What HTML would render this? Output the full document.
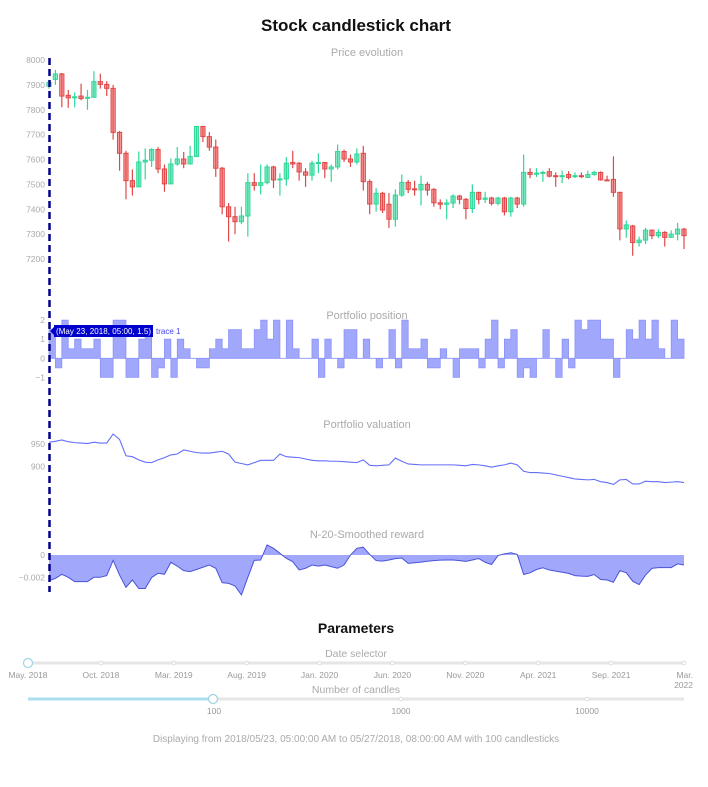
<!DOCTYPE html>
<html><head><meta charset="utf-8"><style>
body{margin:0;background:#fff;font-family:"Liberation Sans",sans-serif;}
svg text{font-family:"Liberation Sans",sans-serif;}
</style></head><body>
<svg id="s" width="708" height="782" viewBox="0 0 708 782" xmlns="http://www.w3.org/2000/svg">
<text x="356" y="31" text-anchor="middle" font-size="17" font-weight="bold" fill="#111">Stock candlestick chart</text>
<text x="367" y="56" text-anchor="middle" font-size="11" fill="#aaa">Price evolution</text>
<text x="367" y="319" text-anchor="middle" font-size="11" fill="#aaa">Portfolio position</text>
<text x="367" y="428" text-anchor="middle" font-size="11" fill="#aaa">Portfolio valuation</text>
<text x="367" y="538" text-anchor="middle" font-size="11" fill="#aaa">N-20-Smoothed reward</text>
<g id="price"></g>
<g id="pos"></g>
<g id="val"></g>
<g id="rew"></g>
<line x1="49.5" y1="58" x2="49.5" y2="592" stroke="#00008b" stroke-width="2.5" stroke-dasharray="7,4"/>
<g>
<polygon points="50,331 54,327 54,325 153,325 153,337 54,337 54,335" fill="#0000cc"/>
<text x="56" y="334" font-size="8" fill="#fff" textLength="95">(May 23, 2018, 05:00, 1.5)</text>
<text x="156" y="334" font-size="8" fill="#4040ee">trace 1</text>
</g>
<text x="356" y="633" text-anchor="middle" font-size="14" font-weight="bold" fill="#111">Parameters</text>
<text x="356" y="657" text-anchor="middle" font-size="10.5" fill="#aaa">Date selector</text>
<g>
<line x1="28" y1="663" x2="684" y2="663" stroke="#e6e6e6" stroke-width="3"/>
<g id="dticks"></g>
<circle cx="28" cy="663" r="4.5" fill="#fff" stroke="#9ed3e6" stroke-width="1.2"/>
</g>
<text x="356" y="693" text-anchor="middle" font-size="10.5" fill="#aaa">Number of candles</text>
<g>
<line x1="28" y1="699" x2="684" y2="699" stroke="#e6e6e6" stroke-width="3"/>
<line x1="28" y1="699" x2="213" y2="699" stroke="#abdff0" stroke-width="3"/>
<circle cx="401" cy="699" r="1.8" fill="#fff" stroke="#ddd"/>
<circle cx="587" cy="699" r="1.8" fill="#fff" stroke="#ddd"/>
<circle cx="213" cy="699" r="4.5" fill="#fff" stroke="#9ed3e6" stroke-width="1.2"/>
<text x="214" y="714" text-anchor="middle" font-size="8.5" fill="#999">100</text>
<text x="401" y="714" text-anchor="middle" font-size="8.5" fill="#999">1000</text>
<text x="587" y="714" text-anchor="middle" font-size="8.5" fill="#999">10000</text>
</g>
<text x="356" y="742" text-anchor="middle" font-size="10" fill="#aaa">Displaying from 2018/05/23, 05:00:00 AM to 05/27/2018, 08:00:00 AM with 100 candlesticks</text>
</svg>
<script>
const opens=[7895,7922,7944,7858,7848,7855,7846,7850,7913,7902,7886,7709,7625,7515,7490,7590,7597,7640,7562,7502,7582,7602,7582,7612,7733,7692,7650,7565,7410,7370,7350,7373,7507,7496,7507,7570,7518,7522,7588,7585,7550,7537,7585,7588,7562,7570,7632,7602,7590,7625,7511,7421,7464,7420,7360,7457,7508,7482,7478,7500,7480,7426,7420,7425,7453,7440,7403,7468,7440,7445,7424,7445,7390,7445,7421,7548,7541,7545,7551,7535,7532,7540,7532,7535,7528,7540,7548,7518,7520,7468,7321,7333,7266,7276,7316,7294,7307,7287,7300,7320];
const closes=[7910,7944,7855,7848,7852,7845,7850,7913,7902,7886,7709,7625,7515,7490,7590,7597,7640,7562,7502,7582,7602,7582,7612,7733,7692,7650,7565,7410,7370,7350,7373,7507,7496,7507,7570,7518,7522,7585,7582,7550,7537,7585,7588,7562,7570,7632,7602,7590,7622,7511,7421,7464,7397,7360,7457,7508,7480,7478,7500,7477,7426,7420,7425,7453,7440,7403,7468,7440,7445,7424,7445,7390,7445,7421,7548,7540,7545,7548,7533,7532,7535,7528,7535,7532,7540,7548,7518,7516,7468,7321,7337,7266,7276,7316,7294,7307,7287,7300,7320,7294];
const highs=[7920,7960,7948,7880,7870,7905,7880,7955,7945,7915,7900,7715,7635,7560,7632,7645,7645,7650,7580,7605,7650,7630,7655,7733,7733,7710,7680,7570,7425,7410,7410,7545,7545,7580,7580,7575,7545,7610,7635,7590,7565,7595,7625,7590,7580,7660,7640,7620,7645,7655,7520,7485,7470,7465,7480,7540,7518,7515,7535,7510,7485,7440,7440,7460,7458,7445,7500,7470,7470,7450,7450,7450,7450,7450,7620,7565,7565,7555,7565,7548,7555,7553,7548,7548,7555,7555,7552,7535,7613,7470,7355,7337,7290,7325,7318,7320,7312,7315,7345,7325];
const lows=[7885,7900,7810,7808,7810,7838,7800,7850,7885,7855,7680,7555,7440,7455,7490,7520,7570,7545,7470,7502,7575,7565,7580,7612,7670,7635,7530,7380,7270,7300,7340,7290,7475,7460,7500,7485,7455,7495,7565,7515,7490,7515,7545,7525,7510,7560,7590,7570,7580,7475,7380,7390,7385,7325,7330,7450,7465,7455,7415,7455,7410,7400,7360,7405,7420,7360,7385,7420,7425,7415,7415,7375,7370,7405,7410,7525,7530,7510,7528,7490,7505,7520,7525,7525,7525,7535,7515,7515,7450,7275,7285,7213,7250,7260,7280,7285,7250,7285,7275,7240];
const positions=[1.5,-0.5,2,0.5,1,0.5,0.5,1,-1,-1,2,2,-1,-1,1,1.5,-1,-0.5,1,-1,1,0.5,0,-0.5,-0.5,0.5,1,0.5,1.5,1.5,0.5,0.5,1.5,2,1,2,0,2,0.5,0,0,1,-1,1,0,-0.5,1.5,1.5,0,1,0,-0.5,0,1.5,-0.5,2,0.5,0.5,1,-0.5,-0.5,0.5,0,-1,0.5,0.5,0.5,-0.5,1,2,-0.5,1,1.5,-1,-0.5,-1,0,1.5,0,-1,1,-0.5,2,1.5,2,2,1,1,-1,0,1.5,1,2,1,2,0.5,0,2,1,1];
const valuations=[954,956,959,955,953,952,951,954,952,952,972,960,924,922,915,910,909,915,920,926,928,937,934,931,930,930,932,934,928,910,907,904,909,914,914,914,928,922,921,920,917,914,913,913,912,912,911,910,909,915,903,902,903,904,919,912,906,905,904,904,904,904,904,904,903,902,905,904,902,899,902,904,908,904,890,887,887,886,885,882,879,876,873,872,871,872,867,865,861,871,872,862,862,868,867,867,865,866,867,865];
const rewards=[-2.3,-2.1,-1.73,-2.0,-2.39,-2.39,-2.39,-2.0,-2.0,-1.85,-0.48,-1.8,-2.9,-2.24,-3.0,-3.0,-2.03,-1.64,-1.73,-0.66,-1.0,-1.4,-1.49,-1.3,-1.1,-0.9,-1.19,-2.48,-2.54,-2.78,-3.58,-2.0,-0.48,-0.45,0.9,0.6,0.15,-0.3,-0.6,-1.34,-1.19,-0.9,-1.0,-0.9,-1.04,-1.19,-0.9,0,0.6,0.7,0.05,-0.5,-0.55,-0.45,-0.33,-0.27,-0.75,-0.7,-0.64,-0.56,-0.5,-0.46,-0.45,-0.45,-0.5,-0.57,-0.45,-0.32,-0.65,-0.85,-0.05,0.1,0.2,0.05,-1.75,-1.6,-1.3,-1.15,-1.35,-1.45,-1.55,-1.65,-1.85,-1.9,-1.92,-1.75,-2.2,-2.24,-2.45,-1.4,-1.6,-2.35,-2.65,-1.8,-1.2,-1.13,-1.13,-1.13,-0.8,-0.9];
const priceTicks=[8000,7900,7800,7700,7600,7500,7400,7300,7200];
const posTicks=[2,1,0,-1];
const posTickLabels=["2","1","0","\u22121"];
const valTicks=[950,900];
const rewTicks=[0,-2];
const rewTickLabels=["0","\u22120.002"];
const dateLabels=["May. 2018","Oct. 2018","Mar. 2019","Aug. 2019","Jan. 2020","Jun. 2020","Nov. 2020","Apr. 2021","Sep. 2021","Mar.|2022"];

const NS="http://www.w3.org/2000/svg";
function mk(p,t,a){const e=document.createElementNS(NS,t);for(const k in a)e.setAttribute(k,a[k]);p.appendChild(e);return e;}
const n=opens.length;
const X=i=>49+(684-49)*i/(n-1);
const yP=v=>60+(8000-v)*(259-60)/800;
const yPos=v=>358.3-v*19.1;
const yVal=v=>444+(950-v)*22.7/50;
const yRew=v=>555-v*11.15;

function ticks(g,vals,labels,f){vals.forEach((v,i)=>{const t=mk(g,'text',{x:45,y:f(v)+3,'text-anchor':'end','font-size':'8.5',fill:'#aaa'});t.textContent=labels[i];

});}

const gp=document.getElementById('price');
ticks(gp,priceTicks,priceTicks.map(String),yP);
for(let i=0;i<n;i++){
  const up=closes[i]>=opens[i];
  const st=up?'#2fd89a':'#e04848', fl=up?'rgba(47,216,154,0.55)':'rgba(240,80,80,0.55)';
  const g=mk(gp,'g',{});
  
  
  const x=X(i);
  mk(g,'line',{x1:x,x2:x,y1:yP(highs[i]),y2:yP(lows[i]),stroke:st,'stroke-width':1.2});
  const t=Math.min(yP(opens[i]),yP(closes[i])),h=Math.max(1,Math.abs(yP(opens[i])-yP(closes[i])));
  mk(g,'rect',{x:x-2.1,y:t,width:4.2,height:h,fill:fl,stroke:st,'stroke-width':1});
}

const gpo=document.getElementById('pos');
ticks(gpo,posTicks,posTickLabels,yPos);
let d=`M${X(0)},${yPos(0)}`;
for(let i=0;i<n-1;i++){d+=` L${X(i)},${yPos(positions[i])} L${X(i+1)},${yPos(positions[i])}`;}
d+=` L${X(n-1)},${yPos(0)} Z`;
const pp=mk(gpo,'path',{d:d,fill:'rgba(99,110,250,0.6)',stroke:'#8a92f8','stroke-width':0.8});



const gv=document.getElementById('val');
ticks(gv,valTicks,valTicks.map(String),yVal);
const vl=mk(gv,'polyline',{points:valuations.map((v,i)=>X(i)+','+yVal(v)).join(' '),fill:'none',stroke:'#636efa','stroke-width':1.1});



const gr=document.getElementById('rew');
ticks(gr,rewTicks,rewTickLabels,yRew);
const rp=mk(gr,'path',{d:`M${X(0)},${yRew(0)} `+rewards.map((v,i)=>`L${X(i)},${yRew(v)}`).join(' ')+` L${X(n-1)},${yRew(0)} Z`,fill:'rgba(99,110,250,0.6)',stroke:'none'});


const rl=mk(gr,'polyline',{points:rewards.map((v,i)=>X(i)+','+yRew(v)).join(' '),fill:'none',stroke:'#4a52d8','stroke-width':1});



const gd=document.getElementById('dticks');
dateLabels.forEach((l,i)=>{const x=28+(684-28)*i/(dateLabels.length-1);
  mk(gd,'circle',{cx:x,cy:663,r:1.8,fill:'#fff',stroke:'#ddd'});
  const parts=l.split('|');
  parts.forEach((p,j)=>{const t=mk(gd,'text',{x:x,y:678+j*10,'text-anchor':i==dateLabels.length-1?'end':'middle','font-size':'8.5',fill:'#999'});
  if(i==dateLabels.length-1)t.setAttribute('x',x+9);
  t.textContent=p;
  
  });
});
</script>
</body></html>
